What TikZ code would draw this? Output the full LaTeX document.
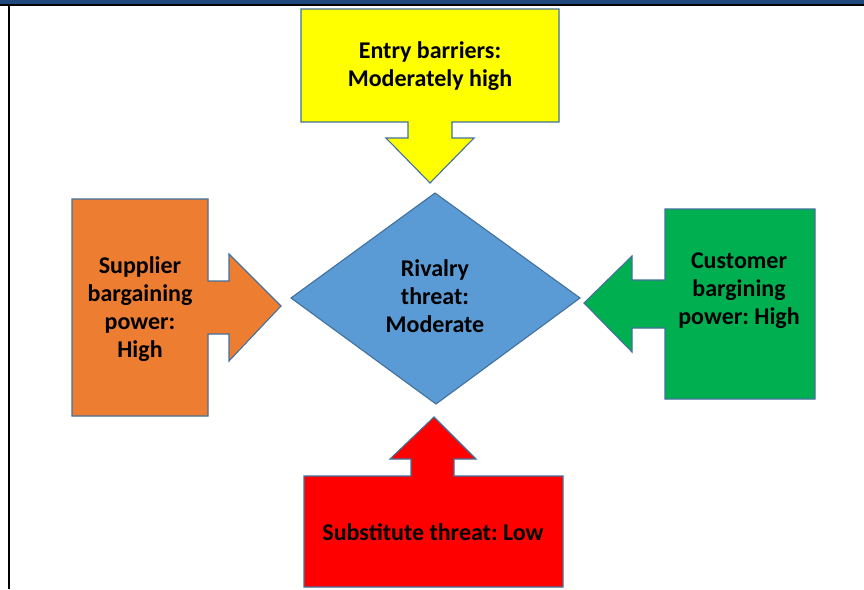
\documentclass[tikz,border=0pt]{standalone}
\usepackage{fontspec}
\setmainfont{Carlito}
\frenchspacing
\definecolor{edge}{HTML}{41719C}
\definecolor{topbar}{HTML}{1F497D}
\definecolor{cyellow}{HTML}{FFFF00}
\definecolor{corange}{HTML}{ED7D31}
\definecolor{cblue}{HTML}{5B9BD5}
\definecolor{cgreen}{HTML}{00B050}
\definecolor{cred}{HTML}{FF0000}
\begin{document}
\begin{tikzpicture}[x=1pt,y=-1pt,
  callout/.style={draw=edge, line width=1.1pt, line join=miter},
  lbl/.style={font=\bfseries\fontsize{24}{28}\selectfont, align=center, text=black, inner sep=0pt}]
\useasboundingbox (0,0) rectangle (864,589);
\fill[white] (0,0) rectangle (864,589);
% frame
\fill[topbar] (0,0) rectangle (864,4.3);
\fill[black] (0,4.3) rectangle (864,6.3);
\fill[black] (8,6.3) rectangle (10,589);
% entry barriers (top, down arrow)
\draw[callout, fill=cyellow] (301,9) -- (559,9) -- (559,122) -- (452,122) -- (452,138) -- (474,138)
  -- (430,183) -- (386,138) -- (408,138) -- (408,122) -- (301,122) -- cycle;
% supplier (left, right arrow)
\draw[callout, fill=corange] (72,199) -- (208,199) -- (208,281) -- (229,281) -- (229,254)
  -- (281,306) -- (229,361) -- (229,334) -- (208,334) -- (208,416) -- (72,416) -- cycle;
% customer (right, left arrow)
\draw[callout, fill=cgreen] (665,209) -- (815,209) -- (815,399) -- (665,399) -- (665,328)
  -- (632,328) -- (632,352) -- (584,303) -- (632,256) -- (632,280) -- (665,280) -- cycle;
% substitute (bottom, up arrow)
\draw[callout, fill=cred] (304,476) -- (411,476) -- (411,459) -- (390,459) -- (434,417)
  -- (476,459) -- (454,459) -- (454,476) -- (563,476) -- (563,587) -- (304,587) -- cycle;
% rivalry diamond
\draw[callout, fill=cblue] (435,193) -- (580,298) -- (436,404) -- (291,298) -- cycle;
% labels
\node[lbl] (entry) at (430,66) {Entry barriers:\\Moderately high};
\node[lbl] (supplier) at (140,309) {Supplier\\bargaining\\power:\\High};
\node[lbl] (rivalry) at (435,296) {Rivalry\\threat:\\Moderate};
\node[lbl] (customer) at (739,291) {Customer\\bargining\\power: High};
\node[lbl] (substitute) at (433,532) {Substitute threat: Low};
\end{tikzpicture}
\end{document}
